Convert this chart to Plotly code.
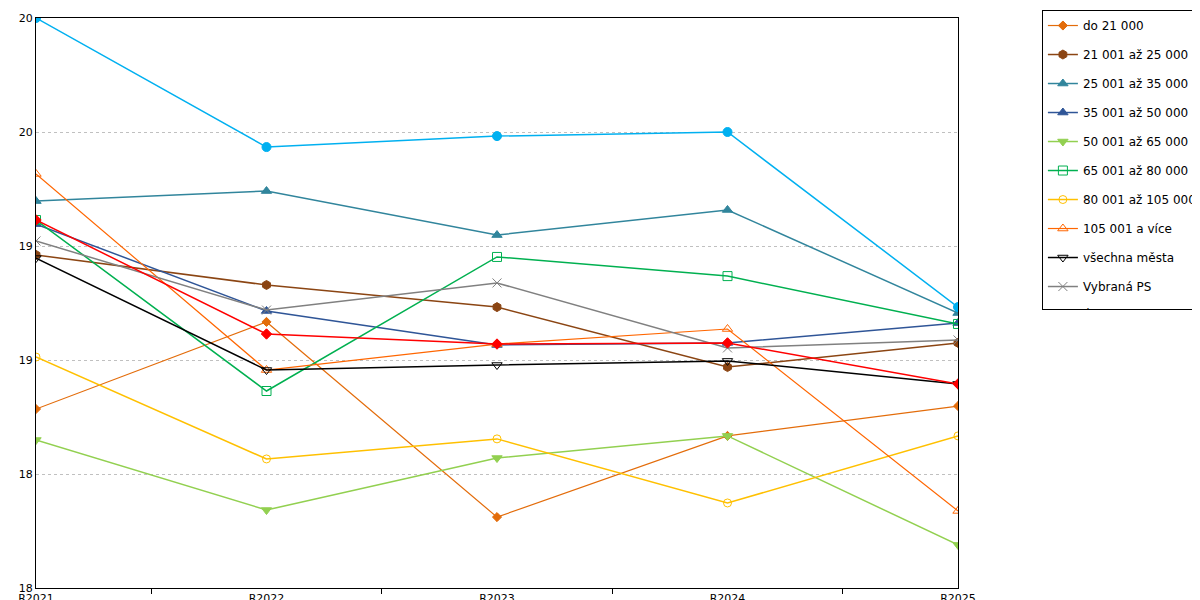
import plotly.graph_objects as go

years = ["R2021", "R2022", "R2023", "R2024", "R2025"]

do_21 = [18.285, 18.667, 17.811, 18.167, 18.298]
s21_25 = [18.961, 18.829, 18.732, 18.469, 18.575]
s25_35 = [19.197, 19.241, 19.048, 19.158, 18.706]
s35_50 = [19.096, 18.715, 18.566, 18.575, 18.662]
s50_65 = [18.149, 17.842, 18.070, 18.167, 17.689]
s65_80 = [19.114, 18.364, 18.952, 18.868, 18.658]
s80_105 = [18.513, 18.066, 18.154, 17.873, 18.167]
s105 = [19.316, 18.456, 18.570, 18.636, 17.838]
vsechna = [18.947, 18.456, 18.478, 18.496, 18.395]
vybrana_ps = [19.022, 18.719, 18.838, 18.553, 18.588]
vas_urad = [19.114, 18.614, 18.570, 18.575, 18.395]
vybrany_urad = [20.0, 19.434, 19.482, 19.5, 18.732]

ytick_vals = [17.5, 18, 18.5, 19, 19.5, 20]
ytick_text = ["18", "18", "19", "19", "20", "20"]

series = [
    ("do 21 000", do_21, "#e36c0a", "diamond", 7, 1.2),
    ("21 001 až 25 000", s21_25, "#8b4513", "hexagon", 9, 1.5),
    ("25 001 až 35 000", s25_35, "#31859c", "triangle-up", 9, 1.5),
    ("35 001 až 50 000", s35_50, "#2f5597", "triangle-up", 9, 1.5),
    ("50 001 až 65 000", s50_65, "#92d050", "triangle-down", 9, 1.5),
    ("65 001 až 80 000", s65_80, "#00b050", "square-open", 9, 1.5),
    ("80 001 až 105 000", s80_105, "#ffc000", "circle-open", 8, 1.5),
    ("105 001 a více", s105, "#ff6600", "triangle-up-open", 9, 1.2),
    ("všechna města", vsechna, "#000000", "triangle-down-open", 9, 1.5),
    ("Vybraná PS", vybrana_ps, "#808080", "x-thin-open", 9, 1.5),
    ("Údaje vašeho úřadu", vas_urad, "#ff0000", "diamond", 8, 1.5),
    ("Údaje vybraného úřadu", vybrany_urad, "#00b0f0", "circle", 9, 1.5),
]

fig = go.Figure()
for i, (name, vals, col, sym, size, w) in enumerate(series):
    fig.add_trace(go.Scatter(
        x=list(range(len(years))), y=vals, name=name, mode="lines+markers",
        legendgroup=str(i),
        line=dict(color=col, width=w),
        marker=dict(symbol=sym, size=size, color=col, line=dict(color=col, width=1)),
    ))

fig.update_layout(
    width=1200, height=600,
    plot_bgcolor="white", paper_bgcolor="white",
    margin=dict(l=28, r=250, t=10, b=20, autoexpand=False),
    font=dict(family="DejaVu Sans", size=11, color="#000"),
    legend=dict(x=1.091, y=1.014, xanchor="left", yanchor="top",
                bordercolor="#000", borderwidth=1, tracegroupgap=10,
                traceorder="grouped", font=dict(size=12)),
)
fig.update_xaxes(
    range=[0, 4], tickvals=list(range(len(years))), ticktext=years,
    showgrid=False, showline=True, linecolor="#000", mirror=True,
    ticks="", zeroline=False,
    minor=dict(tick0=0.5, dtick=1, ticks="outside", ticklen=5, tickcolor="#000"),
)
fig.update_yaxes(
    range=[17.5, 20], tickvals=ytick_vals, ticktext=ytick_text,
    showgrid=True, gridcolor="#c0c0c0", griddash="dot",
    showline=True, linecolor="#000", mirror=True, zeroline=False,
)

fig.write_html("out.html")
